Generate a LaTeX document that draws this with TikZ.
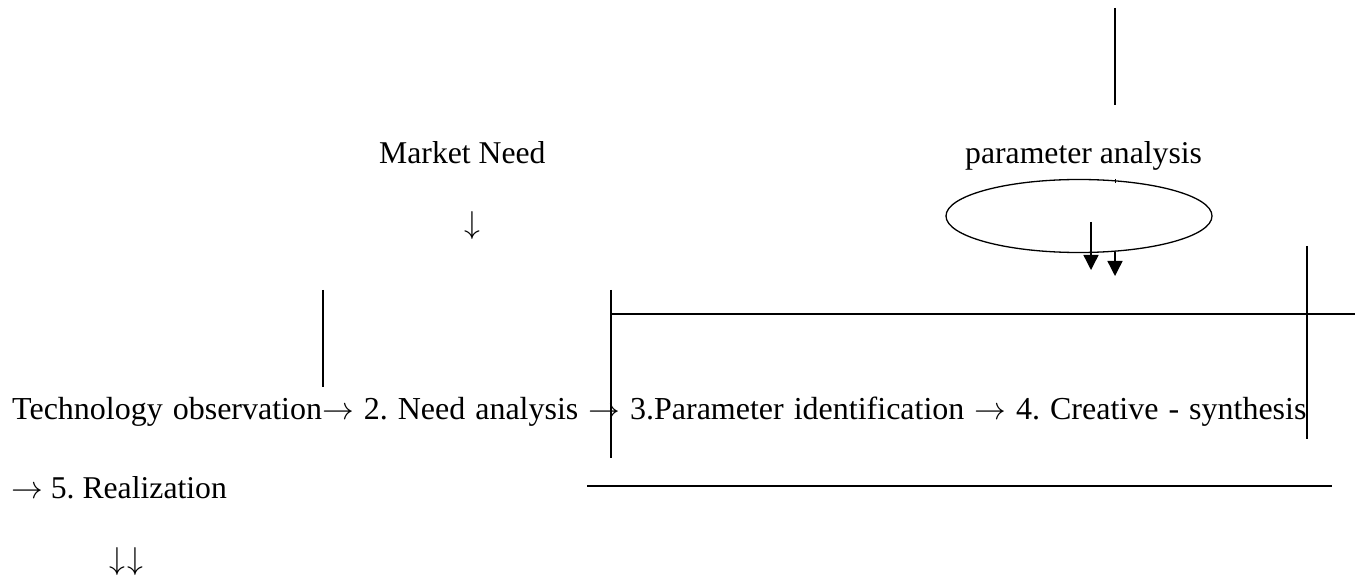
\documentclass[tikz,border=0pt]{standalone}
\usepackage{fontspec}
\usepackage{graphicx}
\setmainfont{Liberation Serif}
\usetikzlibrary{arrows.meta,shapes.geometric}
\newcommand\myto{\scalebox{3.17}{\fontsize{10}{12}\selectfont$\rightarrow$}}
\newcommand\mydown{\scalebox{3.17}{\fontsize{10}{12}\selectfont$\downarrow$}}
\begin{document}
\frenchspacing
\begin{tikzpicture}[x=1pt,y=-1pt,
  txt/.style={font=\fontsize{31.7}{38}\selectfont, inner sep=0pt, anchor=base west},
  rule/.style={line width=1.8pt},
  thinrule/.style={line width=1.4pt},
  downarrow/.style={line width=1.4pt, -{Triangle[width=15pt,length=15pt]}}]
\useasboundingbox (0,0) rectangle (1361,580);

% texts
\node[txt] (market) at (379,164) {Market Need};
\node[txt] (param) at (965,164) {parameter analysis};
\node[txt, anchor=base] (mdown) at (472,234) {\mydown};
\node[txt, font=\fontsize{32}{38}\selectfont] (main) at (12,419) {\spaceskip=10pt\relax Technology observation\myto{} 2. Need analysis \myto{} 3.Parameter identification \myto{} 4. Creative - synthesis};
\node[txt] (real) at (11,498) {\myto{} 5. Realization};
\node[txt] (dd) at (109,569) {\mydown\kern2pt\mydown};

% lines
\coordinate (vt1) at (1115,8);   \coordinate (vt2) at (1115,105);
\coordinate (tk1) at (1115,179); \coordinate (tk2) at (1115,183);
\coordinate (va1) at (323,290);  \coordinate (va2) at (323,387);
\coordinate (vb1) at (611,290);  \coordinate (vb2) at (611,458);
\coordinate (vc1) at (1307,246); \coordinate (vc2) at (1307,439);
\coordinate (ht1) at (611,314);  \coordinate (ht2) at (1355,314);
\coordinate (hb1) at (587,486);  \coordinate (hb2) at (1332,486);

\draw[rule] (vt1) -- (vt2);
\draw[line width=1pt] (tk1) -- (tk2);
\draw[rule] (va1) -- (va2);
\draw[rule] (vb1) -- (vb2);
\draw[rule] (vc1) -- (vc2);
\draw[thinrule] (ht1) -- (ht2);
\draw[thinrule] (hb1) -- (hb2);

% ellipse
\node[draw, ellipse, line width=1.3pt, minimum width=266pt, minimum height=73pt, inner sep=0pt] (ell) at (1079,216) {};

% arrows
\coordinate (a1s) at (1091,222); \coordinate (a1e) at (1091,270);
\coordinate (a2s) at (1115,252); \coordinate (a2e) at (1115,276);
\draw[downarrow] (a1s) -- (a1e);
\draw[downarrow] (a2s) -- (a2e);
\end{tikzpicture}
\end{document}
